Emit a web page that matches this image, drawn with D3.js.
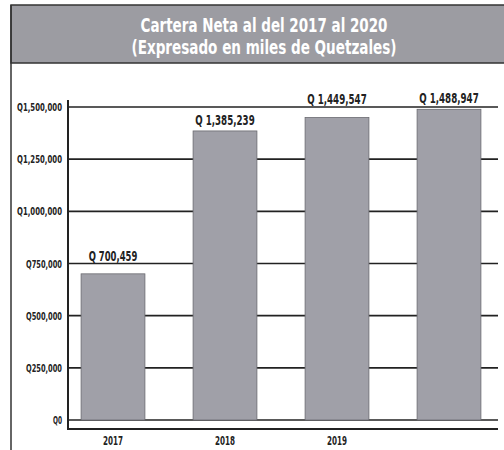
<!DOCTYPE html>
<html>
<head>
<meta charset="utf-8">
<script src="https://cdn.jsdelivr.net/npm/d3@7"></script>
<style>
  html, body { margin: 0; padding: 0; background: #ffffff; }
  svg { display: block; }
  text { font-family: "DejaVu Sans Condensed", "Liberation Sans Narrow", "Liberation Sans", sans-serif; }
</style>
</head>
<body>
<svg id="chart" width="504" height="450"></svg>
<script>
// ---- data ----
const titleLines = ["Cartera Neta al del 2017 al 2020", "(Expresado en miles de Quetzales)"];
const years = ["2017", "2018", "2019", "2020"];
const values = [700459, 1385239, 1449547, 1488947];
const valueLabels = ["Q 700,459", "Q 1,385,239", "Q 1,449,547", "Q 1,488,947"];
const xTickLabels = ["2017", "2018", "2019", ""];
const yTicks = [0, 250000, 500000, 750000, 1000000, 1250000, 1500000];
const yTickLabels = ["Q0", "Q250,000", "Q500,000", "Q750,000", "Q1,000,000", "Q1,250,000", "Q1,500,000"];

const svg = d3.select("#chart");

// squeeze a text to a condensed width (the reference uses a condensed face)
function squeeze(sel, perChar) {
  sel.each(function () {
    const n = this.textContent.length;
    if (!n) return;
    const natural = this.getComputedTextLength();
    const target = Math.min(natural, n * perChar);
    d3.select(this).attr("textLength", target).attr("lengthAdjust", "spacingAndGlyphs");
  });
}

// frame + title band
svg.append("rect").attr("x", 11).attr("y", 5).attr("width", 500).attr("height", 58)
  .attr("fill", "#9c9ca2").attr("stroke", "#333").attr("stroke-width", 1.5);
svg.append("line").attr("x1", 11).attr("x2", 11).attr("y1", 5).attr("y2", 450)
  .attr("stroke", "#333").attr("stroke-width", 1.5);

const titleWidths = [247, 265];
titleLines.forEach((t, i) => {
  svg.append("text")
    .attr("x", 264).attr("y", i === 0 ? 32 : 54)
    .attr("text-anchor", "middle")
    .attr("font-size", 20).attr("font-weight", "bold")
    .attr("fill", "#ffffff")
    .attr("textLength", titleWidths[i]).attr("lengthAdjust", "spacingAndGlyphs")
    .text(t);
});

// scales
const x = d3.scaleBand().domain(years).range([57, 505]).paddingInner(0.43).paddingOuter(0.215);
const y = d3.scaleLinear().domain([0, 1500000]).range([420, 107]);

const plotLeft = 68, plotRight = 498;

// gridlines
svg.append("g").selectAll("line").data(yTicks).join("line")
  .attr("x1", plotLeft).attr("x2", plotRight)
  .attr("y1", d => y(d)).attr("y2", d => y(d))
  .attr("stroke", "#222").attr("stroke-width", 1.6);

// y axis
const yAxis = d3.axisLeft(y).tickValues(yTicks)
  .tickFormat((d, i) => yTickLabels[i]).tickSize(0).tickPadding(6);
const gy = svg.append("g").attr("transform", `translate(${plotLeft},0)`).call(yAxis);
gy.select(".domain").remove();
gy.selectAll(".tick text").attr("font-size", 11).attr("font-weight", "bold").attr("fill", "#222")
  .call(squeeze, 4.5);
svg.append("line").attr("x1", plotLeft).attr("x2", plotLeft).attr("y1", 100).attr("y2", 430)
  .attr("stroke", "#222").attr("stroke-width", 2);

// bars
svg.append("g").selectAll("rect").data(values).join("rect")
  .attr("x", (d, i) => x(years[i]))
  .attr("y", d => y(d))
  .attr("width", x.bandwidth())
  .attr("height", d => y(0) - y(d))
  .attr("fill", "#a0a0a8")
  .attr("stroke", "#6a6a70").attr("stroke-width", 0.8);

// x axis line
svg.append("line").attr("x1", plotLeft).attr("x2", plotRight).attr("y1", 429).attr("y2", 429)
  .attr("stroke", "#222").attr("stroke-width", 2);

// x tick labels
const xAxis = d3.axisBottom(x).tickFormat((d, i) => xTickLabels[i]).tickSize(0).tickPadding(3);
const gx = svg.append("g").attr("transform", "translate(0,433)").call(xAxis);
gx.select(".domain").remove();
gx.selectAll(".tick text").attr("font-size", 12).attr("font-weight", "bold").attr("fill", "#222")
  .call(squeeze, 5);

// value labels: sit above the bar, but hop above any gridline they would cross
function labelY(v) {
  let ly = y(v) - 6;
  for (const t of yTicks) {
    const gyv = y(t);
    if (gyv >= ly - 12 && gyv <= ly + 2) ly = gyv - 3;
  }
  return ly;
}
svg.append("g").selectAll("text").data(values).join("text")
  .attr("x", (d, i) => x(years[i]) + x.bandwidth() / 2)
  .attr("y", d => labelY(d))
  .attr("text-anchor", "middle")
  .attr("font-size", 14).attr("font-weight", "bold").attr("fill", "#222")
  .text((d, i) => valueLabels[i])
  .call(squeeze, 5.4);
</script>
</body>
</html>
